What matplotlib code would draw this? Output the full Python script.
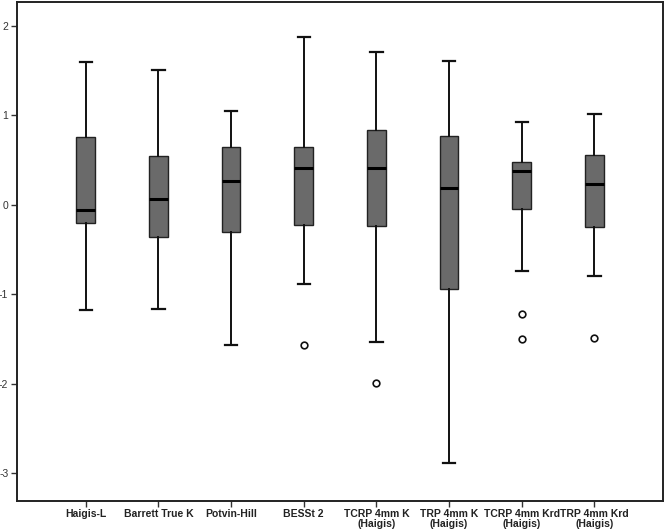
import numpy as np
import matplotlib
matplotlib.use("Agg")
import matplotlib.pyplot as plt

# categories and box statistics
labels = ["Haigis-L", "Barrett True K", "Potvin-Hill", "BESSt 2",
          "TCRP 4mm K\n(Haigis)", "TRP 4mm K\n(Haigis)",
          "TCRP 4mm Krd\n(Haigis)", "TRP 4mm Krd\n(Haigis)"]
whislo = [-1.18, -1.16, -1.57, -0.89, -1.53, -2.88, -0.74, -0.80]
q1 = [-0.20, -0.36, -0.30, -0.23, -0.24, -0.94, -0.05, -0.25]
med = [-0.06, 0.06, 0.26, 0.41, 0.41, 0.19, 0.38, 0.23]
q3 = [0.76, 0.55, 0.65, 0.64, 0.84, 0.77, 0.48, 0.56]
whishi = [1.59, 1.50, 1.05, 1.87, 1.71, 1.61, 0.93, 1.01]
fliers = [[], [], [], [-1.57], [-1.99], [], [-1.22, -1.50], [-1.49]]

plt.rcParams['font.family'] = ['Liberation Sans', 'DejaVu Sans']

stats = []
for i in range(len(labels)):
    stats.append(dict(label=labels[i], whislo=whislo[i], q1=q1[i], med=med[i],
                      q3=q3[i], whishi=whishi[i], fliers=fliers[i]))

fig = plt.figure(figsize=(6.66, 5.31), dpi=100)
ax = fig.add_axes([0.025, 0.0565, 0.97, 0.9397])

ax.bxp(stats, positions=np.arange(1, 9), widths=0.26, patch_artist=True,
       boxprops=dict(facecolor='#6a6a6a', edgecolor='#222222', linewidth=1.0),
       medianprops=dict(color='black', linewidth=2.2),
       whiskerprops=dict(color='#111111', linewidth=1.4),
       capprops=dict(color='#111111', linewidth=1.6),
       capwidths=0.17,
       flierprops=dict(marker='o', markersize=4.8, markerfacecolor='white',
                       markeredgecolor='#111111', markeredgewidth=1.2))

ax.set_xlim(0.05, 8.94)
ax.set_ylim(-3.31, 2.265)
ax.set_yticks([-3, -2, -1, 0, 1, 2])
ax.set_yticklabels(['-3', '-2', '-1', '0', '1', '2'], fontsize=7.5, color='#333333')
ax.set_xticklabels(labels, fontsize=7.5, fontweight='bold', color='#222222',
                   linespacing=1.0)
ax.tick_params(axis='both', length=4, width=1.0, color='#333333', pad=2)
for s in ax.spines.values():
    s.set_linewidth(1.4)
    s.set_color('#222222')

fig.savefig('out.png', dpi=100)
